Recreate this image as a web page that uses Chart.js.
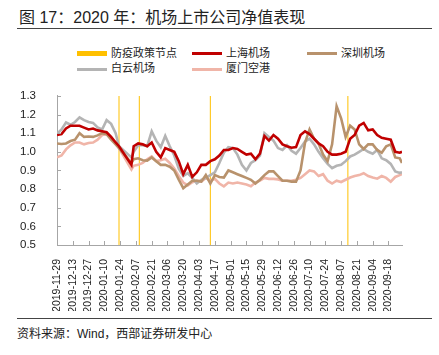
<!DOCTYPE html>
<html><head><meta charset="utf-8">
<script src="https://cdn.jsdelivr.net/npm/chart.js@4.4.0/dist/chart.umd.min.js"></script>
<style>
body{margin:0;width:439px;height:355px;background:#fff;position:relative;overflow:hidden;font-family:"Liberation Sans","Noto Sans CJK SC",sans-serif;color:#222;}
#title{position:absolute;left:19px;top:4px;font-size:16px;white-space:nowrap;}
.rule{position:absolute;left:17px;width:415px;height:1px;background:#444;}
.lg{position:absolute;font-size:11px;white-space:nowrap;line-height:13px;color:#222;}
.sw{position:absolute;}
#wrap{position:absolute;left:0;top:76px;width:439px;height:240px;}
#src{position:absolute;left:17px;top:324px;font-size:12px;white-space:nowrap;}
</style></head>
<body>
<div id="title">图 17：2020 年：机场上市公司净值表现</div>
<div class="rule" style="top:28px"></div>
<div id="legend"></div>
<div id="wrap"><canvas id="c"></canvas></div>
<div class="rule" style="top:318px"></div>
<div id="src">资料来源：Wind，西部证券研发中心</div>
<script>
const startDate = '2019-11-29';
const endDate = '2020-09-30';
const dates = ['2019-11-29','2019-12-03','2019-12-07','2019-12-11','2019-12-15','2019-12-19','2019-12-23','2019-12-27','2019-12-31','2020-01-04','2020-01-08','2020-01-12','2020-01-16','2020-01-20',
'2020-01-23','2020-02-03','2020-02-05',
'2020-02-09','2020-02-13','2020-02-17','2020-02-21','2020-02-25','2020-02-29','2020-03-04','2020-03-08','2020-03-12','2020-03-16',
'2020-03-20','2020-03-24','2020-03-28','2020-04-01','2020-04-05','2020-04-09','2020-04-13','2020-04-17','2020-04-21','2020-04-25',
'2020-04-29','2020-05-03','2020-05-07','2020-05-11','2020-05-15','2020-05-19','2020-05-23','2020-05-27','2020-05-31','2020-06-04',
'2020-06-08','2020-06-12','2020-06-16','2020-06-20','2020-06-24','2020-06-28','2020-07-02','2020-07-06','2020-07-10','2020-07-14',
'2020-07-18','2020-07-22','2020-07-26','2020-07-30','2020-08-03','2020-08-07','2020-08-11','2020-08-15','2020-08-19','2020-08-23',
'2020-08-27','2020-08-31','2020-09-04','2020-09-08','2020-09-12','2020-09-16','2020-09-20','2020-09-24','2020-09-28',
'2020-09-30'];
const shanghai = [1.09,1.095,1.125,1.14,1.14,1.14,1.13,1.12,1.125,1.115,1.11,1.105,1.08,1.05,
1.03,0.93,1.03,
1.045,1.04,1.03,1.05,1.0,0.97,1.02,1.01,1.0,0.95,
0.88,0.93,0.865,0.89,0.93,0.93,0.95,0.96,0.98,1.01,
1.01,1.02,1.015,1.0,0.985,0.99,0.96,0.99,1.085,1.06,
1.09,1.07,1.04,1.03,1.022,1.025,1.09,1.11,1.095,1.07,
1.045,1.03,1.0,0.985,0.985,0.99,1.0,1.07,1.09,1.14,
1.155,1.115,1.12,1.09,1.075,1.07,1.065,1.0,0.995,
1.0];
const shenzhen = [1.045,1.042,1.045,1.058,1.065,1.1,1.08,1.082,1.08,1.088,1.1,1.095,1.065,1.04,
1.02,0.94,0.96,
0.965,0.955,0.953,0.97,0.95,0.93,0.93,0.92,0.9,0.85,
0.805,0.825,0.845,0.845,0.84,0.875,0.83,0.875,0.865,0.862,
0.9,0.89,0.88,0.87,0.86,0.85,0.83,0.85,0.875,0.895,
0.895,0.87,0.845,0.845,0.84,0.84,0.9,1.05,1.12,1.07,
1.045,0.985,0.95,1.04,1.245,1.18,1.08,1.14,1.12,1.04,
1.015,1.04,1.04,1.01,0.995,1.03,1.04,0.97,0.965,
0.94];
const baiyun = [1.097,1.12,1.157,1.145,1.16,1.185,1.17,1.16,1.155,1.131,1.12,1.17,1.15,1.1,
1.03,0.97,1.0,
1.035,1.035,1.03,1.11,1.06,1.025,1.085,1.03,0.98,0.91,
0.87,0.885,0.86,0.83,0.85,0.86,0.875,0.89,0.94,0.995,
1.025,1.02,0.985,0.93,0.9,0.94,0.955,0.98,1.1,1.08,
1.06,1.02,1.01,1.035,1.005,0.99,1.02,1.055,1.07,1.04,
1.0,0.965,0.935,0.912,0.925,0.93,0.95,0.975,0.985,1.0,
1.015,1.0,0.99,1.01,0.965,0.955,0.935,0.895,0.887,
0.89];
const xiamen = [0.97,0.98,1.013,1.035,1.05,1.05,1.04,1.047,1.05,1.065,1.09,1.095,1.075,1.05,
1.02,0.905,0.925,
0.93,0.94,0.96,0.975,0.95,0.955,0.963,0.94,0.91,0.87,
0.835,0.82,0.837,0.845,0.84,0.86,0.845,0.855,0.83,0.815,
0.835,0.83,0.835,0.83,0.825,0.815,0.835,0.845,0.86,0.855,
0.855,0.852,0.845,0.845,0.845,0.85,0.86,0.88,0.9,0.895,
0.87,0.88,0.845,0.83,0.845,0.838,0.85,0.862,0.87,0.875,
0.885,0.87,0.862,0.856,0.87,0.86,0.84,0.865,0.875,
0.88];
const policyDates = ['2020-01-23','2020-02-10','2020-04-13','2020-08-13'];
const tickDates = ['2019-11-29','2019-12-13','2019-12-27','2020-01-10','2020-01-24','2020-02-07','2020-02-21','2020-03-06','2020-03-20','2020-04-03','2020-04-17','2020-05-01','2020-05-15','2020-05-29','2020-06-12','2020-06-26','2020-07-10','2020-07-24','2020-08-07','2020-08-21','2020-09-04','2020-09-18'];
const yMin = 0.5, yMax = 1.3, yStep = 0.1;

const policyName = '防疫政策节点';
const seriesNames = ['上海机场','深圳机场','白云机场','厦门空港'];
const seriesData = [shanghai, shenzhen, baiyun, xiamen];
const seriesColors = ['#C00000','#B8926C','#B4B4B4','#F0B5A8'];
const policyColor = '#FFC000';

const dayOf = s => (Date.parse(s) - Date.parse(startDate)) / 86400000;
const tickMap = {};
tickDates.forEach(d => tickMap[dayOf(d)] = d);

const FONT = '"Liberation Sans", "Noto Sans CJK SC", sans-serif';

// legend (HTML)
const legendItems = [
  {name: policyName, color: policyColor, h: 5, col: 0, row: 0},
  {name: seriesNames[0], color: seriesColors[0], h: 3, col: 1, row: 0},
  {name: seriesNames[1], color: seriesColors[1], h: 3, col: 2, row: 0},
  {name: seriesNames[2], color: seriesColors[2], h: 3, col: 0, row: 1},
  {name: seriesNames[3], color: seriesColors[3], h: 3, col: 1, row: 1}
];
const lg = document.getElementById('legend');
legendItems.forEach(it => {
  const x = 77 + it.col * 115, yc = 53.5 + it.row * 15.5;
  const sw = document.createElement('div');
  sw.className = 'sw';
  sw.style.cssText = `left:${x}px;top:${yc - it.h/2}px;width:30px;height:${it.h}px;background:${it.color}`;
  lg.appendChild(sw);
  const t = document.createElement('div');
  t.className = 'lg';
  t.textContent = it.name;
  t.style.left = (x + 34) + 'px';
  t.style.top = (yc - 7) + 'px';
  lg.appendChild(t);
});

const policyData = [];
policyDates.forEach(d => {
  policyData.push({x: dayOf(d), y: yMin}, {x: dayOf(d), y: yMax}, {x: dayOf(d), y: null});
});

const datasets = seriesNames.map((n, i) => ({
  label: n,
  data: dates.map((d, j) => ({x: dayOf(d), y: seriesData[i][j]})),
  borderColor: seriesColors[i],
  borderWidth: 2.6,
  pointRadius: 0,
  tension: 0,
  fill: false,
  order: i
}));
datasets.push({
  label: policyName,
  data: policyData,
  borderColor: policyColor,
  borderWidth: 1,
  pointRadius: 0,
  spanGaps: false,
  order: 10
});

const innerTicks = {
  id: 'innerTicks',
  afterDraw(chart) {
    const {ctx, scales: {x, y}, chartArea: a} = chart;
    ctx.save();
    ctx.strokeStyle = '#A6A6A6';
    ctx.lineWidth = 1;
    ctx.beginPath();
    x.ticks.forEach(t => {
      const px = Math.round(x.getPixelForValue(t.value)) + 0.5;
      ctx.moveTo(px, a.bottom); ctx.lineTo(px, a.bottom - 4);
    });
    y.ticks.forEach(t => {
      const py = Math.round(y.getPixelForValue(t.value)) + 0.5;
      ctx.moveTo(a.left, py); ctx.lineTo(a.left + 4, py);
    });
    ctx.stroke();
    ctx.restore();
  }
};

new Chart(document.getElementById('c'), {
  type: 'line',
  data: {datasets},
  options: {
    responsive: true,
    maintainAspectRatio: false,
    animation: false,
    devicePixelRatio: 1,
    parsing: true,
    layout: {padding: {left: 17, right: 37, top: 11, bottom: 5}},
    plugins: {legend: {display: false}, tooltip: {enabled: false}},
    scales: {
      x: {
        type: 'linear',
        min: 0,
        max: dayOf(endDate),
        afterBuildTicks: s => { s.ticks = tickDates.map(d => ({value: dayOf(d)})); },
        afterFit: s => { s.height = 66; },
        grid: {display: false},
        border: {display: true, color: '#A6A6A6', width: 1},
        ticks: {
          autoSkip: false, maxRotation: 90, minRotation: 90, padding: 6,
          color: '#222', font: {family: FONT, size: 10.5},
          callback: v => tickMap[v] || ''
        }
      },
      y: {
        min: yMin, max: yMax,
        afterFit: s => { s.width = 40; },
        grid: {display: false},
        border: {display: true, color: '#A6A6A6', width: 1},
        ticks: {
          stepSize: yStep, padding: 13,
          color: '#222', font: {family: FONT, size: 11.5},
          callback: v => Number(v).toFixed(1)
        }
      }
    }
  },
  plugins: [innerTicks]
});
</script>
</body></html>
